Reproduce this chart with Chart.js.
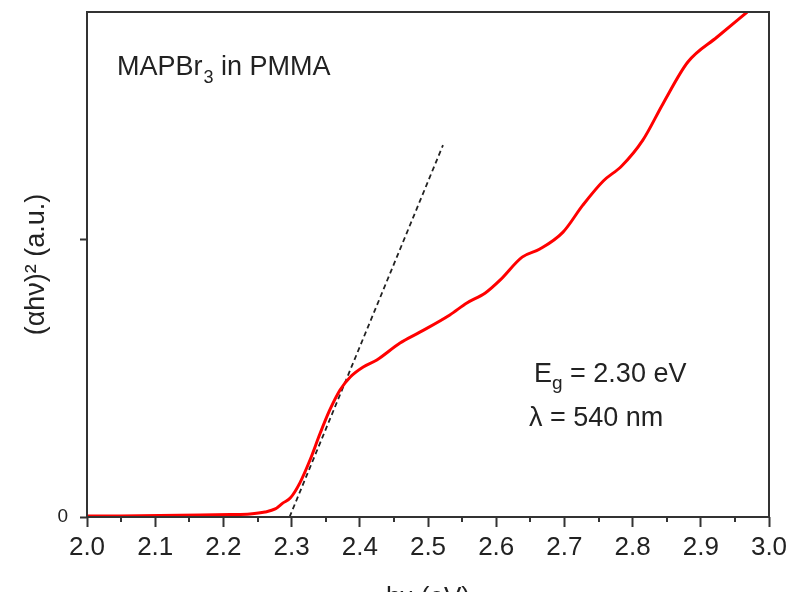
<!DOCTYPE html>
<html>
<head>
<meta charset="utf-8">
<script src="https://cdn.jsdelivr.net/npm/chart.js@4.4.1/dist/chart.umd.min.js"></script>
<style>
  html, body { margin: 0; padding: 0; overflow: hidden; background: #fff; }
  #wrap { width: 794px; height: 620px; position: relative; }
</style>
</head>
<body>
<div id="wrap"><canvas id="myChart"></canvas></div>
<script>
// photon energy (eV) and (alpha h nu)^2 (a.u.)
const energy = [2.000, 2.048, 2.107, 2.166, 2.210, 2.239, 2.261, 2.276, 2.287, 2.298,
  2.312, 2.327, 2.342, 2.356, 2.371, 2.386, 2.405, 2.425, 2.459, 2.488,
  2.532, 2.557, 2.584, 2.606, 2.638, 2.664, 2.698, 2.727, 2.757, 2.784,
  2.815, 2.845, 2.881, 2.924, 2.968];
const absorb = [0.004, 0.004, 0.005, 0.007, 0.009, 0.011, 0.018, 0.029, 0.050, 0.068,
  0.122, 0.205, 0.302, 0.385, 0.457, 0.504, 0.540, 0.565, 0.626, 0.665,
  0.727, 0.770, 0.806, 0.853, 0.935, 0.964, 1.025, 1.122, 1.209, 1.263,
  1.356, 1.489, 1.637, 1.727, 1.817];

// linear fit of the band edge (dashed)
const fitX = [2.297, 2.522];
const fitY = [0, 1.338];

const xTicks = [2.0, 2.1, 2.2, 2.3, 2.4, 2.5, 2.6, 2.7, 2.8, 2.9, 3.0];
const xMinorTicks = [2.05, 2.15, 2.25, 2.35, 2.45, 2.55, 2.65, 2.75, 2.85, 2.95];
const yTicks = [0, 1];
const yMax = 1.817;

const FONT = "'Liberation Sans', Arial, sans-serif";
const INK = "#222";
const AXIS = "#333";

// frame, minor ticks and text labels
const extras = {
  id: "extras",
  afterDraw(chart) {
    const { ctx, chartArea: { top, bottom, left, right }, scales: { x } } = chart;
    ctx.save();
    ctx.strokeStyle = AXIS;
    ctx.lineWidth = 2;
    ctx.strokeRect(left, top, right - left, bottom - top);

    xMinorTicks.forEach(function (v) {
      const px = Math.round(x.getPixelForValue(v));
      ctx.beginPath();
      ctx.moveTo(px, bottom);
      ctx.lineTo(px, bottom + 5);
      ctx.stroke();
    });

    ctx.fillStyle = INK;
    ctx.textBaseline = "alphabetic";
    ctx.textAlign = "left";

    // MAPBr3 in PMMA
    ctx.font = "27px " + FONT;
    let tx = left + 30;
    ctx.fillText("MAPBr", tx, top + 63);
    tx += ctx.measureText("MAPBr").width;
    ctx.font = "18px " + FONT;
    ctx.fillText("3", tx + 1, top + 71);
    tx += ctx.measureText("3").width + 1;
    ctx.font = "27px " + FONT;
    ctx.fillText(" in PMMA", tx, top + 63);

    // Eg = 2.30 eV
    tx = left + 447;
    ctx.fillText("E", tx, top + 370);
    tx += ctx.measureText("E").width;
    ctx.font = "19px " + FONT;
    ctx.fillText("g", tx, top + 377);
    tx += ctx.measureText("g").width;
    ctx.font = "27px " + FONT;
    ctx.fillText(" = 2.30 eV", tx, top + 370);

    ctx.fillText("\u03bb = 540 nm", left + 442, top + 414);
    ctx.restore();
  },
};

const myChart = document.getElementById("myChart");
if (myChart) {
  let bandGapChart = new Chart(myChart, {
    type: "line",
    data: {
      datasets: [
        {
          label: "MAPBr3 in PMMA",
          data: energy.map((e, i) => ({ x: e, y: absorb[i] })),
          borderColor: "#ff0000",
          borderWidth: 3,
          pointRadius: 0,
          cubicInterpolationMode: "monotone",
          fill: false,
        },
        {
          label: "fit",
          data: fitX.map((e, i) => ({ x: e, y: fitY[i] })),
          borderColor: "#222",
          borderWidth: 1.8,
          borderDash: [5, 3.5],
          pointRadius: 0,
          fill: false,
        },
      ],
    },
    options: {
      responsive: true,
      maintainAspectRatio: false,
      animation: false,
      layout: { padding: { top: 12, right: 25, left: 0, bottom: 0 } },
      plugins: {
        legend: { display: false },
        tooltip: { enabled: false },
      },
      scales: {
        x: {
          type: "linear",
          min: 2.0,
          max: 3.0,
          afterBuildTicks(scale) {
            scale.ticks = xTicks.map((v) => ({ value: v }));
          },
          afterFit(scale) {
            scale.height = 103;
            scale.paddingLeft = 0;
            scale.paddingRight = 0;
          },
          border: { display: false },
          grid: {
            drawOnChartArea: false,
            tickLength: 10,
            tickWidth: 2,
            tickColor: AXIS,
          },
          ticks: {
            color: INK,
            padding: 5,
            maxRotation: 0,
            autoSkip: false,
            font: { family: FONT, size: 26 },
            callback: (v) => Number(v).toFixed(1),
          },
          title: {
            display: true,
            text: "h\u03bd (eV)",
            color: INK,
            font: { family: FONT, size: 26 },
            padding: { top: 0, bottom: 7 },
          },
        },
        y: {
          type: "linear",
          min: 0,
          max: yMax,
          afterBuildTicks(scale) {
            scale.ticks = yTicks.map((v) => ({ value: v }));
          },
          afterFit(scale) {
            scale.width = 87;
            scale.paddingTop = 0;
            scale.paddingBottom = 0;
          },
          border: { display: false },
          grid: {
            drawOnChartArea: false,
            tickLength: 7,
            tickWidth: 2,
            tickColor: AXIS,
          },
          ticks: {
            color: INK,
            padding: 12,
            font: { family: FONT, size: 19 },
            callback: (v) => (v === 0 ? "0" : ""),
          },
          title: {
            display: true,
            text: "(\u03b1h\u03bd)\u00b2 (a.u.)",
            color: INK,
            font: { family: FONT, size: 27 },
            padding: { top: 20, bottom: 0 },
          },
        },
      },
    },
    plugins: [extras],
  });
}
</script>
</body>
</html>
